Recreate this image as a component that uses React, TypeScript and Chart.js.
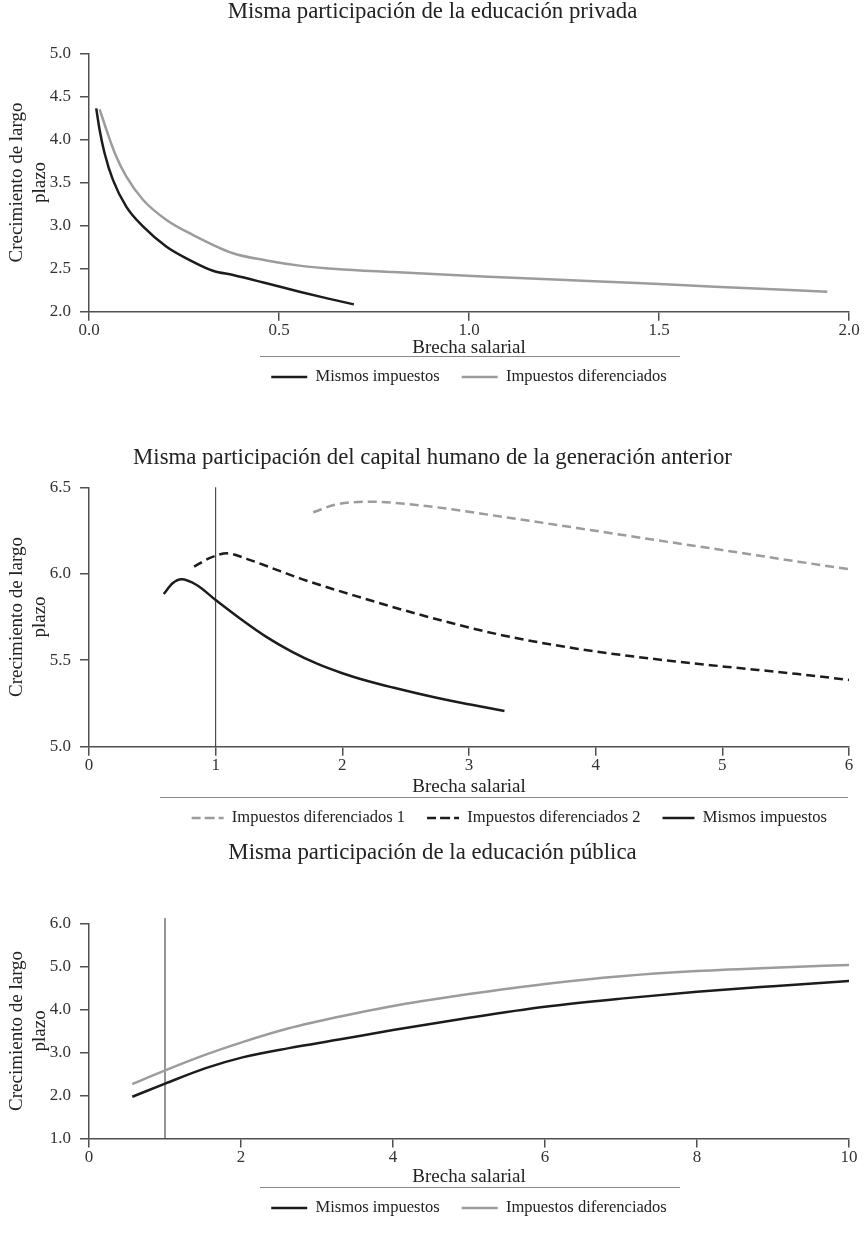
import React, { useEffect, useRef } from 'react';
import { Chart, registerables } from 'chart.js';

Chart.register(...registerables);

// ---------------- DATA ----------------
// Panel 1: Misma participación de la educación privada
const p1Title = 'Misma participación de la educación privada';
const p1BlackX = [0.019, 0.028, 0.041, 0.063, 0.098, 0.142, 0.204, 0.265, 0.326, 0.379, 0.467, 0.554, 0.627, 0.697];
const p1BlackY = [4.36, 4.11, 3.84, 3.53, 3.22, 2.99, 2.755, 2.6, 2.476, 2.426, 2.33, 2.232, 2.155, 2.085];
const p1GrayX = [0.028, 0.046, 0.068, 0.098, 0.142, 0.204, 0.274, 0.379, 0.467, 0.554, 0.65, 0.8, 1.036, 1.24, 1.443, 1.647, 1.943];
const p1GrayY = [4.35, 4.11, 3.84, 3.57, 3.3, 3.065, 2.89, 2.678, 2.595, 2.535, 2.495, 2.46, 2.41, 2.37, 2.333, 2.29, 2.232];
const p1XTicks = [0, 0.5, 1.0, 1.5, 2.0];
const p1XTickLabels = ['0.0', '0.5', '1.0', '1.5', '2.0'];
const p1YTicks = [2.0, 2.5, 3.0, 3.5, 4.0, 4.5, 5.0];
const p1YTickLabels = ['2.0', '2.5', '3.0', '3.5', '4.0', '4.5', '5.0'];
const p1Labels = ['Mismos impuestos', 'Impuestos diferenciados'];

// Panel 2: Misma participación del capital humano de la generación anterior
const p2Title = 'Misma participación del capital humano de la generación anterior';
const p2Gray1X = [1.77, 1.95, 2.21, 2.68, 3.26, 3.85, 4.43, 5.02, 5.6, 6.0];
const p2Gray1Y = [6.356, 6.4, 6.417, 6.39, 6.33, 6.265, 6.2, 6.135, 6.07, 6.026];
const p2Dash2X = [0.83, 0.95, 1.09, 1.25, 1.51, 1.67, 2.09, 2.68, 3.26, 3.85, 4.43, 5.02, 5.6, 6.0];
const p2Dash2Y = [6.041, 6.09, 6.118, 6.085, 6.015, 5.972, 5.875, 5.75, 5.645, 5.567, 5.51, 5.463, 5.42, 5.386];
const p2SolidX = [0.59, 0.66, 0.73, 0.85, 1.0, 1.2, 1.4, 1.6, 1.8, 2.0, 2.2, 2.4, 2.7, 3.0, 3.28];
const p2SolidY = [5.883, 5.945, 5.968, 5.935, 5.848, 5.737, 5.635, 5.55, 5.48, 5.425, 5.38, 5.342, 5.29, 5.245, 5.206];
const p2XTicks = [0, 1, 2, 3, 4, 5, 6];
const p2XTickLabels = ['0', '1', '2', '3', '4', '5', '6'];
const p2YTicks = [5.0, 5.5, 6.0, 6.5];
const p2YTickLabels = ['5.0', '5.5', '6.0', '6.5'];
const p2Labels = ['Impuestos diferenciados 1', 'Impuestos diferenciados 2', 'Mismos impuestos'];
const p2RefLineX = [1, 1];
const p2RefLineY = [5.0, 6.5];

// Panel 3: Misma participación de la educación pública
const p3Title = 'Misma participación de la educación pública';
const p3BlackX = [0.57, 1.01, 1.535, 2.02, 2.63, 3.29, 4.0, 5.0, 6.0, 7.0, 8.0, 9.0, 10.0];
const p3BlackY = [1.97, 2.28, 2.635, 2.885, 3.1, 3.3, 3.52, 3.805, 4.06, 4.25, 4.41, 4.54, 4.66];
const p3GrayX = [0.57, 1.01, 1.535, 2.02, 2.63, 3.29, 4.0, 4.39, 5.0, 6.0, 7.0, 8.0, 9.0, 10.0];
const p3GrayY = [2.266, 2.59, 2.95, 3.24, 3.56, 3.83, 4.08, 4.195, 4.357, 4.59, 4.77, 4.89, 4.97, 5.03];
const p3XTicks = [0, 2, 4, 6, 8, 10];
const p3XTickLabels = ['0', '2', '4', '6', '8', '10'];
const p3YTicks = [1.0, 2.0, 3.0, 4.0, 5.0, 6.0];
const p3YTickLabels = ['1.0', '2.0', '3.0', '4.0', '5.0', '6.0'];
const p3Labels = ['Mismos impuestos', 'Impuestos diferenciados'];
const p3RefLineX = [1, 1];
const p3RefLineY = [1.0, 6.12];

const xAxisTitle = 'Brecha salarial';
const yAxisTitle = ['Crecimiento de largo', 'plazo'];

// ---------------- STYLE ----------------
const FONT = '"Liberation Serif", "Times New Roman", serif';
const BLACK = '#1c1c1c';
const GRAY = '#9c9c9c';
const AXIS = '#505050';
const TITLE_FS = 22.8;
const AX_FS = 19;
const AX_LH = AX_FS * 1.2;
const TICK_FS = 17;
const LEG_FS = 16.5;
const LEG_P = 22;
const LEG_H = LEG_FS + LEG_P + 10;
const W = 865;
const PAD_LR = W - 849; // symmetric side padding so the title centres on the page
const PLOT_LEFT = 89;

const pts = (xs: number[], ys: number[]) => xs.map((x, i) => ({ x, y: ys[i] }));

type Layout = {
  canvasTop: number;
  height: number;
  titleCenter: number;
  plotTop: number;
  plotBottom: number;
  xTitleCenter: number;
  legendCenter: number;
  sepLeft: number;
  sepRight: number;
  legendAlign: 'center' | 'end';
  boxWidth: number;
};

type Panel = {
  title: string;
  datasets: any[];
  xMin: number; xMax: number; xTicks: number[]; xTickLabels: string[];
  yMin: number; yMax: number; yTicks: number[]; yTickLabels: string[];
  layout: Layout;
};

const lineDs = (label: string, xs: number[], ys: number[], color: string, dash: number[], width: number) => ({
  label,
  data: pts(xs, ys),
  borderColor: color,
  backgroundColor: color,
  borderWidth: width,
  borderDash: dash,
  pointRadius: 0,
  pointHoverRadius: 0,
  fill: false,
  cubicInterpolationMode: 'monotone',
});

const refDs = (xs: number[], ys: number[]) => ({
  label: 'ref',
  isRefLine: true,
  data: pts(xs, ys),
  borderColor: '#2a2a2a',
  backgroundColor: '#2a2a2a',
  borderWidth: 1,
  pointRadius: 0,
  tension: 0,
  clip: false,
  fill: false,
});

const panels: Panel[] = [
  {
    title: p1Title,
    datasets: [
      lineDs(p1Labels[0], p1BlackX, p1BlackY, BLACK, [], 2.5),
      lineDs(p1Labels[1], p1GrayX, p1GrayY, GRAY, [], 2.5),
    ],
    xMin: 0, xMax: 2, xTicks: p1XTicks, xTickLabels: p1XTickLabels,
    yMin: 2, yMax: 5, yTicks: p1YTicks, yTickLabels: p1YTickLabels,
    layout: { canvasTop: 0, height: 396, titleCenter: 12.5, plotTop: 53.3, plotBottom: 311.7, xTitleCenter: 348, legendCenter: 377, sepLeft: 260, sepRight: 680, legendAlign: 'center', boxWidth: 36 },
  },
  {
    title: p2Title,
    datasets: [
      lineDs(p2Labels[0], p2Gray1X, p2Gray1Y, GRAY, [9, 5], 2.5),
      lineDs(p2Labels[1], p2Dash2X, p2Dash2Y, BLACK, [9, 5], 2.5),
      lineDs(p2Labels[2], p2SolidX, p2SolidY, BLACK, [], 2.5),
      refDs(p2RefLineX, p2RefLineY),
    ],
    xMin: 0, xMax: 6, xTicks: p2XTicks, xTickLabels: p2XTickLabels,
    yMin: 5, yMax: 6.5, yTicks: p2YTicks, yTickLabels: p2YTickLabels,
    layout: { canvasTop: 440, height: 400, titleCenter: 458, plotTop: 487.3, plotBottom: 746.7, xTitleCenter: 787, legendCenter: 818, sepLeft: 160, sepRight: 848, legendAlign: 'end', boxWidth: 32 },
  },
  {
    title: p3Title,
    datasets: [
      lineDs(p3Labels[0], p3BlackX, p3BlackY, BLACK, [], 2.5),
      lineDs(p3Labels[1], p3GrayX, p3GrayY, GRAY, [], 2.5),
      refDs(p3RefLineX, p3RefLineY),
    ],
    xMin: 0, xMax: 10, xTicks: p3XTicks, xTickLabels: p3XTickLabels,
    yMin: 1, yMax: 6, yTicks: p3YTicks, yTickLabels: p3YTickLabels,
    layout: { canvasTop: 840, height: 401, titleCenter: 853, plotTop: 923.3, plotBottom: 1138.5, xTitleCenter: 1177, legendCenter: 1208, sepLeft: 260, sepRight: 680, legendAlign: 'center', boxWidth: 36 },
  },
];

const separatorPlugin = {
  id: 'legendSeparator',
  afterDraw(chart: any, _args: any, opts: any) {
    const lg = chart.legend;
    if (!lg) return;
    const y = Math.round(lg.top + LEG_P + LEG_FS / 2 - 21) + 0.5;
    const ctx = chart.ctx;
    ctx.save();
    ctx.strokeStyle = '#8a8a8a';
    ctx.lineWidth = 1;
    ctx.beginPath();
    ctx.moveTo(opts.left, y);
    ctx.lineTo(opts.right, y);
    ctx.stroke();
    ctx.restore();
  },
};

function buildConfig(p: Panel): any {
  const L = p.layout;
  const titlePadTop = L.titleCenter - L.canvasTop - TITLE_FS / 2;
  const titlePadBottom = L.plotTop - L.canvasTop - TITLE_FS - titlePadTop;
  const legendTop = L.legendCenter - L.canvasTop - LEG_P - LEG_FS / 2;
  const layoutPadBottom = L.height - (legendTop + LEG_H);
  const hx = legendTop - (L.plotBottom - L.canvasTop);
  const xTitlePadBottom = legendTop - AX_LH / 2 - (L.xTitleCenter - L.canvasTop);
  const yTitlePadTop = 17 - PAD_LR - AX_LH / 2;

  const gridOpts = {
    display: true,
    drawOnChartArea: false,
    drawTicks: true,
    tickLength: 9,
    color: AXIS,
    lineWidth: 1.5,
  };
  const borderOpts = { display: true, color: AXIS, width: 1.5 };

  return {
    type: 'line',
    data: { datasets: p.datasets },
    plugins: [separatorPlugin],
    options: {
      responsive: false,
      animation: false,
      events: [],
      layout: { padding: { left: PAD_LR, right: PAD_LR, top: 0, bottom: layoutPadBottom } },
      plugins: {
        legendSeparator: { left: L.sepLeft, right: L.sepRight },
        title: {
          display: true,
          text: p.title,
          color: '#222',
          font: { family: FONT, size: TITLE_FS, weight: 'normal', lineHeight: 1 },
          padding: { top: titlePadTop, bottom: titlePadBottom },
        },
        legend: {
          display: true,
          position: 'bottom',
          fullSize: false,
          align: L.legendAlign,
          labels: {
            font: { family: FONT, size: LEG_FS },
            color: '#222',
            boxWidth: L.boxWidth,
            boxHeight: 0,
            padding: LEG_P,
            filter: (item: any, data: any) => !data.datasets[item.datasetIndex].isRefLine,
          },
        },
        tooltip: { enabled: false },
      },
      scales: {
        x: {
          type: 'linear',
          min: p.xMin,
          max: p.xMax,
          afterBuildTicks: (s: any) => { s.ticks = p.xTicks.map((v) => ({ value: v })); },
          afterFit: (s: any) => { s.height = hx; },
          ticks: {
            color: '#333',
            font: { family: FONT, size: TICK_FS },
            padding: 0,
            maxRotation: 0,
            autoSkip: false,
            callback: (_v: any, i: number) => p.xTickLabels[i],
          },
          grid: gridOpts,
          border: borderOpts,
          title: {
            display: true,
            text: xAxisTitle,
            color: '#222',
            font: { family: FONT, size: AX_FS, lineHeight: 1.2 },
            padding: { top: 0, bottom: xTitlePadBottom },
          },
        },
        y: {
          type: 'linear',
          min: p.yMin,
          max: p.yMax,
          afterBuildTicks: (s: any) => { s.ticks = p.yTicks.map((v) => ({ value: v })); },
          afterFit: (s: any) => { s.width = PLOT_LEFT - PAD_LR; },
          ticks: {
            color: '#333',
            font: { family: FONT, size: TICK_FS },
            padding: 9,
            autoSkip: false,
            callback: (_v: any, i: number) => p.yTickLabels[i],
          },
          grid: gridOpts,
          border: borderOpts,
          title: {
            display: true,
            text: yAxisTitle,
            color: '#222',
            font: { family: FONT, size: AX_FS, lineHeight: 1.2 },
            padding: { top: yTitlePadTop, bottom: 0 },
          },
        },
      },
    },
  };
}

function ChartPanel({ panel }: { panel: Panel }) {
  const ref = useRef<HTMLCanvasElement | null>(null);
  useEffect(() => {
    if (!ref.current) return;
    const chart = new Chart(ref.current, buildConfig(panel));
    return () => chart.destroy();
  }, [panel]);
  const L = panel.layout;
  return (
    <div style={{ position: 'absolute', left: 0, top: L.canvasTop, width: W, height: L.height }}>
      <canvas ref={ref} width={W} height={L.height} style={{ width: W, height: L.height, display: 'block' }} />
    </div>
  );
}

export default function App() {
  return (
    <div style={{ position: 'absolute', left: 0, top: 0, width: W, height: 1241, background: '#fff', overflow: 'hidden' }}>
      {panels.map((p, i) => (
        <ChartPanel key={i} panel={p} />
      ))}
    </div>
  );
}
